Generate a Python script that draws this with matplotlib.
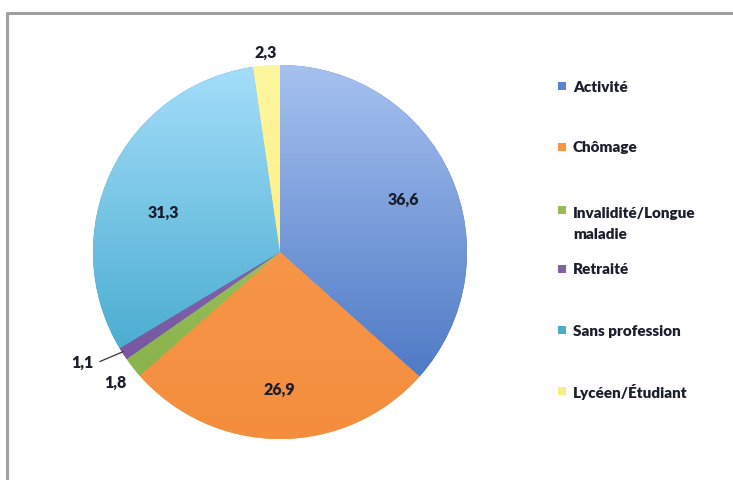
import matplotlib

matplotlib.use("Agg")
import matplotlib.pyplot as plt
import numpy as np
from matplotlib.colors import LinearSegmentedColormap
from matplotlib.patches import Rectangle

plt.rcParams["font.family"] = ["Lato", "DejaVu Sans"]

categories = ["Activité", "Chômage", "Invalidité/Longue\nmaladie", "Retraité",
              "Sans profession", "Lycéen/Étudiant"]
values = [36.6, 26.9, 1.8, 1.1, 31.3, 2.3]
value_labels = ["36,6", "26,9", "1,8", "1,1", "31,3", "2,3"]

# (top colour, bottom colour) for each slice's vertical gradient
shades = [("#a6c1f0", "#3d6cbd"), ("#f99c52", "#f48e3e"), ("#a9cf6e", "#84ad45"),
          ("#9478bf", "#6f4f98"), ("#a4defa", "#2f9ec4"), ("#fff7a0", "#fbe86a")]
legend_colors = ["#5b84d0", "#f79646", "#9bbb59", "#8064a2", "#4bacc6", "#fbee86"]

W, H = 733, 481
CX, CY, R = 280, H - 253, 187
# label placement: radius fraction and angular nudge (deg) from the slice middle
label_dist = [0.72, 0.73, 1.12, 1.21, 0.66, 1.075]
label_turn = [-1, 0, 0, -4, 6.5, 0]
legend_y = [87, 148, 211, 270, 331, 392]

fig = plt.figure(figsize=(W / 100, H / 100), dpi=100)
ax = fig.add_axes([0, 0, 1, 1])

wedges, _ = ax.pie(values, startangle=90, counterclock=False, center=(CX, CY),
                   radius=R, frame=True, colors=[s[1] for s in shades],
                   wedgeprops=dict(linewidth=0))

grad = np.linspace(0, 1, 256).reshape(-1, 1)
for w, (top, bottom) in zip(wedges, shades):
    cmap = LinearSegmentedColormap.from_list("g", [bottom, top])
    im = ax.imshow(grad, extent=[CX - R, CX + R, CY - R, CY + R], origin="lower",
                   cmap=cmap, aspect="auto", zorder=2)
    im.set_clip_path(w)

# value labels
for w, txt, d, t in zip(wedges, value_labels, label_dist, label_turn):
    mid = np.deg2rad((w.theta1 + w.theta2) / 2)
    ang = mid + np.deg2rad(t)
    x = CX + d * R * np.cos(ang)
    y = CY + d * R * np.sin(ang)
    if txt == "1,1":
        ex = CX + R * np.cos(mid)
        ey = CY + R * np.sin(mid)
        ax.plot([x + 18, ex], [y, ey + 2], color="#333333", lw=0.9, zorder=3)
    ax.text(x, y, txt, ha="center", va="center", fontsize=11.5, fontweight="heavy",
            color="#1b1e2c", zorder=4)

# legend
for cat, col, py in zip(categories, legend_colors, legend_y):
    y = H - py
    ax.add_patch(Rectangle((558, y - 4), 8, 8, facecolor=col, edgecolor="none", zorder=4))
    ax.text(573, y + (4 if "\n" in cat else 0), cat, ha="left",
            va="top" if "\n" in cat else "center",
            fontsize=11, fontweight="heavy", color="#1b1e2c", linespacing=1.75,
            zorder=4)

# chart border
ax.plot([7, 7, W + 5], [-5, H - 14, H - 14], color="#a0a0a0", lw=2.2, zorder=5)

ax.set_xlim(0, W)
ax.set_ylim(0, H)
ax.set_aspect("equal")
ax.axis("off")
fig.savefig("out.png", dpi=100)
